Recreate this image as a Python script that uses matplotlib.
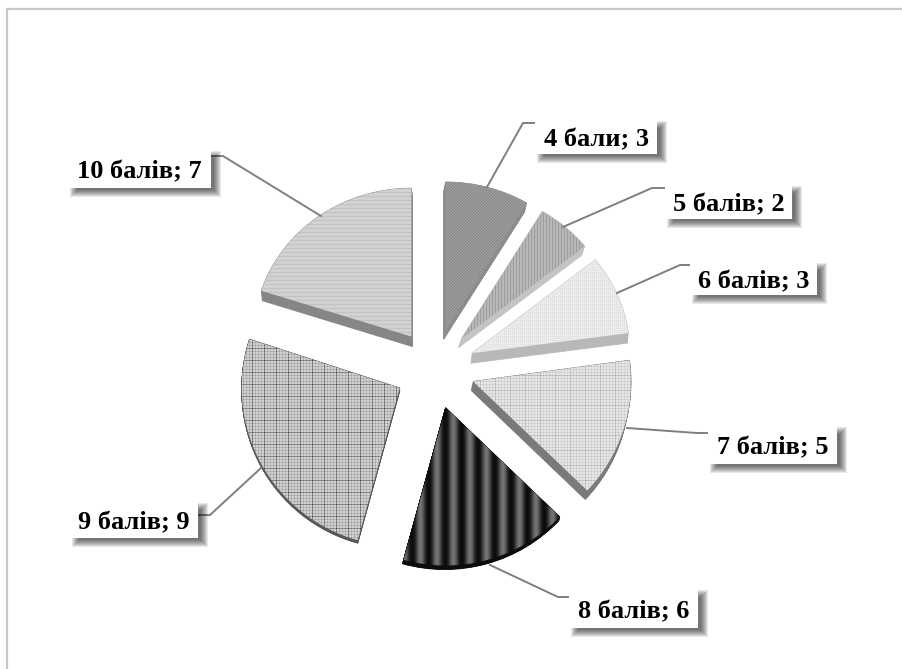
import matplotlib
matplotlib.use("Agg")
import matplotlib.pyplot as plt
from matplotlib.patches import Rectangle, Wedge
from matplotlib.transforms import Affine2D
import numpy as np

labels = ["4 бали", "5 балів", "6 балів", "7 балів", "8 балів", "9 балів", "10 балів"]
values = [3, 2, 3, 5, 6, 9, 7]

W, H = 902, 669
CENTER = (435, -369)
RADIUS = 158
GAP = 40

# per slice look: side colour, shift of the side wall (pixels) and the
# vertical squash that fakes the perspective of the far slices
side_colors = ["#8c8c8c", "#c4c4c4", "#b8b8b8", "#7a7a7a", "#0c0c0c", "#5a5a5a", "#868686"]
side_shift = [(-2, 9), (-3, 9), (-1, 10), (-2, 9), (-1, 4), (0, 3), (1, 10)]
y_squash = [0.94, 0.94, 0.95, 1.0, 1.0, 1.0, 0.94]

# label boxes x0, x1, y0, y1 and leader lines, in image pixels
boxes = [(535, 657, 120, 154), (665, 792, 185, 219), (690, 817, 262, 295), (708, 837, 426, 464),
         (569, 698, 589, 628), (70, 198, 502, 538), (68, 211, 150, 188)]
leaders = [[(487, 187), (523, 123), (535, 123)],
           [(563, 227), (652, 188), (665, 188)],
           [(617, 293), (680, 265), (690, 265)],
           [(627, 428), (697, 433), (708, 433)],
           [(490, 565), (558, 597), (569, 597)],
           [(261, 468), (210, 515), (198, 515)],
           [(321, 216), (223, 156), (211, 156)]]


def texture(kind):
    # pixel patterns that stand in for the office pattern fills
    yy, xx = np.mgrid[0:H, 0:W]
    if kind == 0:  # dark diagonal
        return 0.58 + 0.05 * np.where((xx + yy) % 3 == 0, 1, -0.5)
    if kind == 1:  # vertical lines
        return 0.68 + 0.07 * np.where(xx % 3 == 0, -1, 0.6)
    if kind == 2:  # light dots
        return 0.91 + 0.03 * np.where((xx % 2 == 0) & (yy % 2 == 0), -1.6, 0.6)
    if kind == 3:  # light grid
        a = 0.90 - 0.06 * (xx % 3 == 0) - 0.06 * (yy % 3 == 0)
        return a - 0.07 * (xx % 15 == 0) - 0.07 * (yy % 15 == 0)
    if kind == 4:  # soft black stripes
        return 0.05 + 0.40 * (0.5 + 0.5 * np.cos(2 * np.pi * (xx - 453) / 16.5)) ** 1.2
    if kind == 5:  # darker grid
        a = 0.82 - 0.10 * (xx % 3 == 0) - 0.10 * (yy % 3 == 0)
        return a - 0.20 * (xx % 12 == 0) - 0.16 * (yy % 12 == 0)
    # horizontal lines
    return 0.84 - 0.06 * (yy % 4 == 0) - 0.04 * ((xx + yy) % 2 == 0)


fig = plt.figure(figsize=(W / 100, H / 100), dpi=100)
ax = fig.add_axes([0, 0, 1, 1])

explode = [GAP] * len(values)
wedges, _ = ax.pie(values, explode=explode, center=CENTER, radius=RADIUS, startangle=90,
                   counterclock=False, frame=False, wedgeprops={"linewidth": 0})
ax.set_xlim(0, W)
ax.set_ylim(-H, 0)
ax.set_aspect("auto")


def squashed(cx, cy, s):
    return Affine2D().translate(-cx, -cy).scale(1, s).translate(cx, cy) + ax.transData


# side walls first, then the textured top of each slice
for i, w in enumerate(wedges):
    w.set_facecolor("none")
    cx, cy = w.center
    dx, dy = side_shift[i]
    for k in np.linspace(0, 1, 12):
        side = Wedge((cx + dx * k, cy - dy * k), w.r, w.theta1, w.theta2,
                     fc=side_colors[i], ec=side_colors[i], lw=0.5, zorder=2)
        ax.add_patch(side)
        side.set_transform(squashed(cx, cy - dy * k, y_squash[i]))
for i, w in enumerate(wedges):
    cx, cy = w.center
    top = Wedge(w.center, w.r, w.theta1, w.theta2, fc="none", ec="none")
    ax.add_patch(top)
    top.set_transform(squashed(cx, cy, y_squash[i]))
    im = ax.imshow(texture(i), cmap="gray", vmin=0, vmax=1, extent=(0, W, -H, 0), origin="upper",
                   interpolation="nearest", zorder=3, aspect="auto")
    im.set_clip_path(top)
ax.set_xlim(0, W)
ax.set_ylim(-H, 0)

# leader lines
for pts in leaders:
    xs = [p[0] for p in pts]
    ys = [-p[1] for p in pts]
    ax.plot(xs, ys, color="#7f7f7f", lw=1.4, zorder=4, solid_joinstyle="miter")

# data labels with a soft drop shadow
for name, val, (x0, x1, y0, y1) in zip(labels, values, boxes):
    for grow in [4, 3, 2, 1, 0, -1, -2, -3]:
        ax.add_patch(Rectangle((x0 + 6 - grow, -y1 - 5 - grow), x1 - x0 + 2 * grow, y1 - y0 + 2 * grow,
                               fc="black", ec="none", alpha=0.09, zorder=5))
    ax.add_patch(Rectangle((x0, -y1), x1 - x0, y1 - y0, fc="white", ec="none", zorder=6))
    ax.text((x0 + x1) / 2, -(y0 + y1) / 2 - 3, f"{name}; {val}", ha="center", va="center",
            family="Liberation Serif", fontweight="bold", fontsize=19, color="black", zorder=7)

# outer frame of the chart area
ax.plot([7, 7, W], [-H, -9, -9], color="#c9c9c9", lw=1.6, zorder=1, solid_joinstyle="miter")

fig.savefig("out.png", dpi=100)
